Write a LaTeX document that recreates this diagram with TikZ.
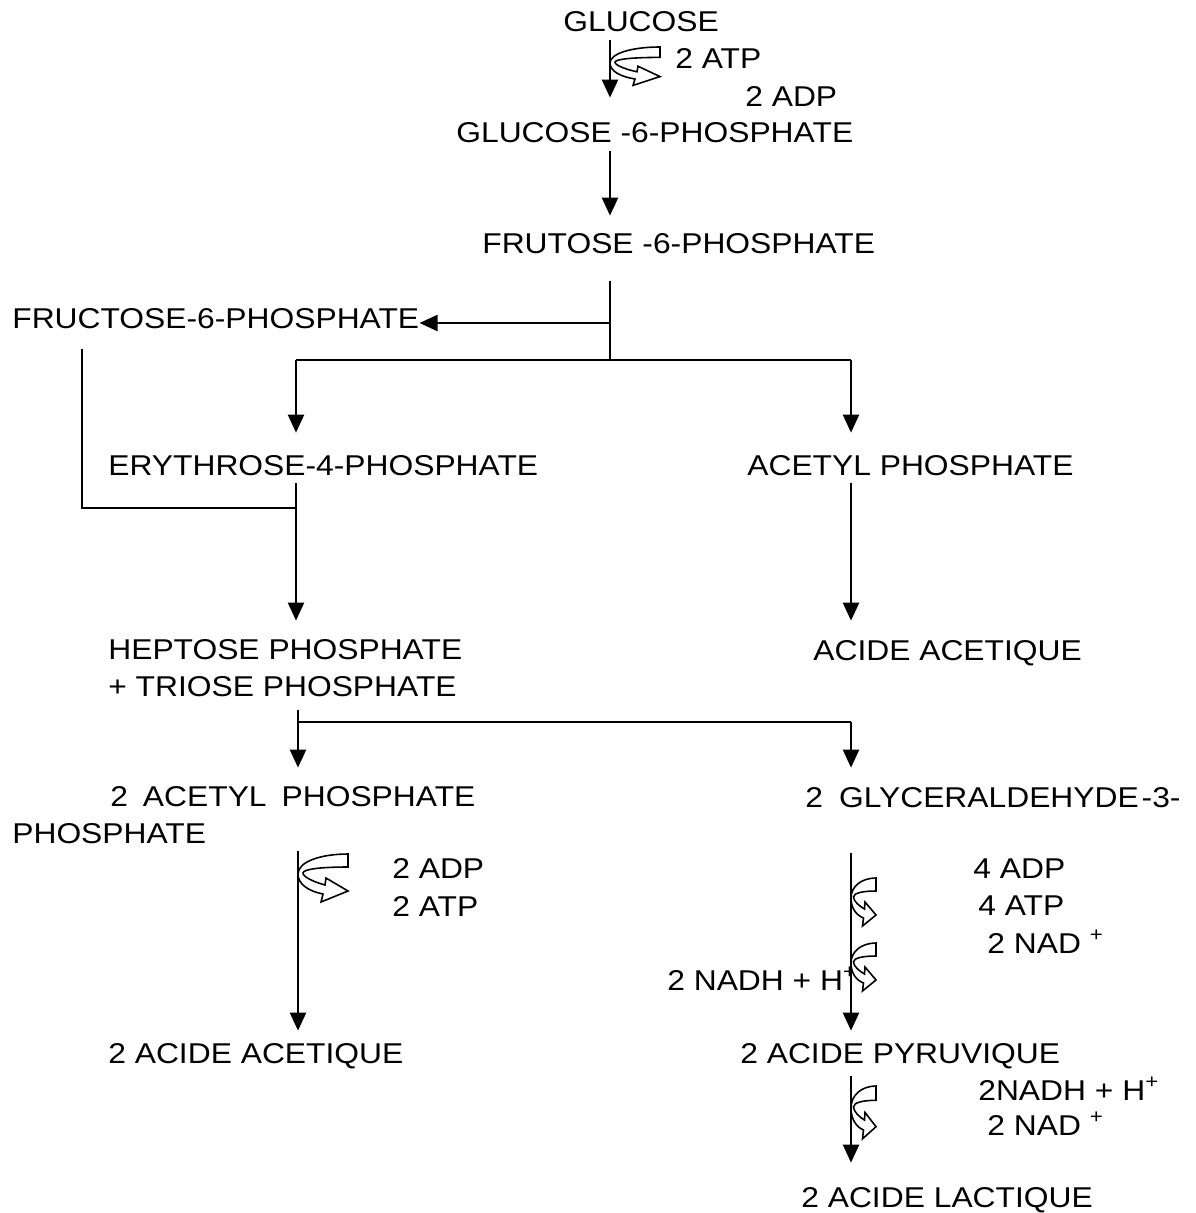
\documentclass[tikz,border=0pt]{standalone}
\usepackage{fontspec}
\setmainfont{Liberation Sans}[FakeStretch=1.11]
\usetikzlibrary{arrows.meta}
\tikzstyle{every node}=[anchor=base west,inner xsep=0pt,inner ysep=0.14cm,font=\fontsize{16.3}{20.5}\selectfont]
\tikzstyle{ln}=[line width=1.3pt]
\tikzstyle{arr}=[line width=1.3pt,-{Triangle[length=0.36cm,width=0.32cm]}]
\tikzset{
  turn/.pic={
    \draw[line width=0.9pt,fill=white] (50,0) .. controls (22,0) and (0,8) .. (0,20)
      .. controls (0,30) and (10,37) .. (25,40) -- (23,48) -- (50,37) -- (28,24) -- (27,31)
      .. controls (16,28) and (5,23) .. (5,19) .. controls (5,15) and (24,13) .. (50,13) -- cycle;
  }
}

\begin{document}
\begin{tikzpicture}[x=0.02cm,y=-0.02cm]
    \useasboundingbox (0,0) rectangle (1196,1213);
    % substances
    \node (glc) at (563,32) {GLUCOSE};
    \node (g6p) at (456,143) {GLUCOSE -6-PHOSPHATE};
    \node (f6p) at (482,254) {FRUTOSE -6-PHOSPHATE};
    \node (fru) at (12,328) {FRUCTOSE-6-PHOSPHATE};
    \node (ery) at (108,475) {ERYTHROSE-4-PHOSPHATE};
    \node (acp) at (747,475) {ACETYL PHOSPHATE};
    \node[align=left] (hep) at (108,696) {HEPTOSE PHOSPHATE\\+ TRIOSE PHOSPHATE};
    \node (aca) at (813,660) {ACIDE ACETIQUE};
    \node[align=left] (acp2) at (12,843) {\hspace*{1.96cm}2\hspace{0.3cm}ACETYL\hspace{0.3cm}PHOSPHATE\\PHOSPHATE};
    \node (gap) at (805,807) {2\hspace{0.32cm}GLYCERALDEHYDE\hspace{0.06cm}-3-};
    \node (aca2) at (108,1063) {2 ACIDE ACETIQUE};
    \node (pyr) at (740,1063) {2 ACIDE PYRUVIQUE};
    \node (lac) at (801,1207) {2 ACIDE LACTIQUE};
    % cofacteurs
    \node (atp1) at (675,69) {2 ATP};
    \node (adp1) at (745,107) {2 ADP};
    \node (adp2) at (392,878) {2 ADP};
    \node (atp2) at (392,916) {2 ATP};
    \node (adp4) at (973,878) {4 ADP};
    \node (atp4) at (978,915) {4 ATP};
    \node (nad1) at (987,953) {2 NAD \textsuperscript{+}};
    \node (nadh1) at (667,990) {2 NADH + H\textsuperscript{+}};
    \node (nadh2) at (978,1100) {2NADH + H\textsuperscript{+}};
    \node (nad2) at (987,1135) {2 NAD \textsuperscript{+}};
    % fleches courbes
    \pic[yscale=0.8] at (610,47) {turn};
    \pic at (298,854) {turn};
    \pic[xscale=0.5] at (851,878) {turn};
    \pic[xscale=0.5] at (851,943) {turn};
    \pic[xscale=0.5,yscale=1.1] at (851,1086) {turn};
    % points de branchement
    \coordinate (trunk) at (610,0);
    \coordinate (split) at (610,323);
    \coordinate (fork) at (610,360);
    \coordinate (lfork) at (296,360);
    \coordinate (rfork) at (851,360);
    \coordinate (fx) at (82,508);
    \coordinate (join) at (296,508);
    \coordinate (hfork) at (298,722);
    \coordinate (gfork) at (851,722);
    % connexions
    \draw[arr,shorten >=0.36cm] (glc.south -| trunk) -- (g6p.north -| trunk);
    \draw[arr,shorten >=0.22cm] (g6p.south -| trunk) -- (f6p.north -| trunk);
    \draw[ln,shorten <=0.38cm] (f6p.south -| trunk) -- (fork);
    \draw[arr] (split) -- (fru.east |- split);
    \draw[ln] (lfork) -- (rfork);
    \draw[arr,shorten >=0.3cm] (lfork) -- (ery.north -| lfork);
    \draw[arr,shorten >=0.3cm] (rfork) -- (acp.north -| rfork);
    \draw[ln,shorten <=0.26cm] (fru.south -| fx) |- (join);
    \draw[arr,shorten >=0.24cm] (ery.south -| join) -- (hep.north -| join);
    \draw[arr,shorten >=0.24cm] (acp.south -| rfork) -- (aca.north -| rfork);
    \draw[ln,shorten <=0.12cm] (hep.south -| hfork) -- (hfork) -- (gfork);
    \draw[arr,shorten >=0.24cm] (hfork) -- (acp2.north -| hfork);
    \draw[arr,shorten >=0.24cm] (gfork) -- (gap.north -| gfork);
    \draw[arr,shorten >=0.1cm] (acp2.south -| hfork) -- (aca2.north -| hfork);
    \draw[arr,shorten <=0.76cm,shorten >=0.1cm] (gap.south -| gfork) -- (pyr.north -| gfork);
    \draw[arr,shorten >=0.34cm] (pyr.south -| gfork) -- (lac.north -| gfork);
\end{tikzpicture}
\end{document}
